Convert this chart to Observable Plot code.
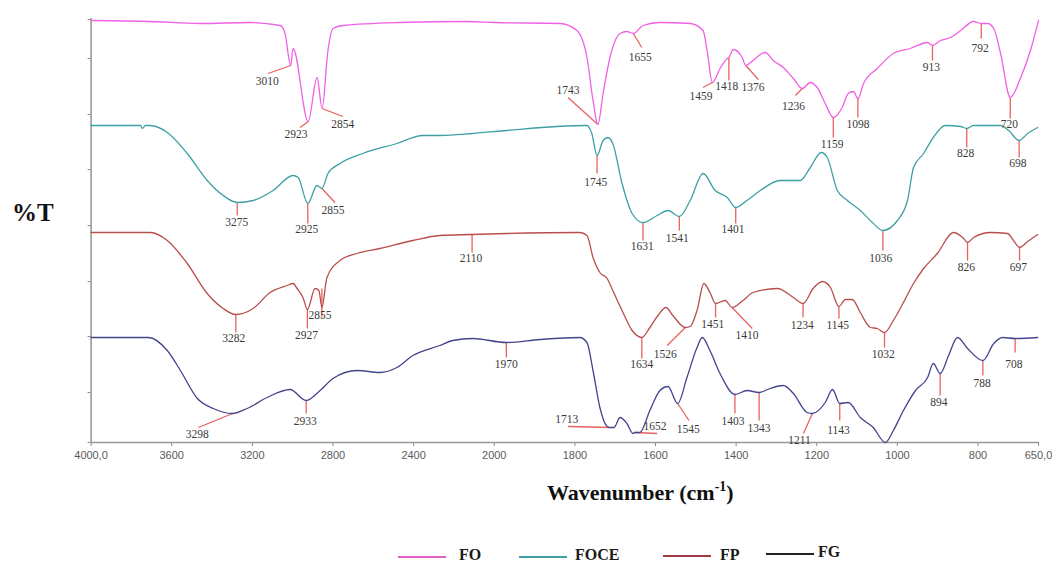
<!DOCTYPE html>
<html><head><meta charset="utf-8">
<script src="https://cdn.jsdelivr.net/npm/d3@7"></script>
<script src="https://cdn.jsdelivr.net/npm/@observablehq/plot@0.6"></script>
<style>
body{margin:0;background:#fff;}
#wrap{position:relative;width:1052px;height:564px;overflow:hidden;font-family:"Liberation Serif",serif;background:#fff;}
#chart{position:absolute;left:0;top:0;}
.lab{position:absolute;font-weight:bold;color:#111;white-space:nowrap;line-height:1;}
.leg{position:absolute;height:0;width:48px;}
.legt{position:absolute;font-weight:bold;font-size:16px;color:#1a1a1a;line-height:1;}
</style></head><body>
<div id="wrap">
<div id="chart"></div>
<div class="lab" style="left:12px;top:200px;font-size:25px;">%T</div>
<div class="lab" style="left:547px;top:482px;font-size:22px;">Wavenumber (cm<span style="position:relative;top:-9px;font-size:14px;">-1</span>)</div>
<div class="leg" style="left:398px;top:556px;border-top:2px solid #e060c8;"></div><div class="legt" style="left:459px;top:547px;">FO</div>
<div class="leg" style="left:519px;top:556px;border-top:2px solid #3fa0a4;"></div><div class="legt" style="left:575px;top:547px;">FOCE</div>
<div class="leg" style="left:663px;top:555px;border-top:2px solid #a03846;"></div><div class="legt" style="left:720px;top:547px;">FP</div>
<div class="leg" style="left:766px;top:553px;border-top:2px solid #222;"></div><div class="legt" style="left:818px;top:544px;">FG</div>
</div>
<script>
// Wavenumber (cm-1) and offset transmittance values
const FO_WN = [4000,3706,3458,3211,3062,3038,3010,2998,2923,2879,2854,2825,2800,2751,2468,2137,2000,1837,1795,1770,1755,1743,1730,1713,1688,1671,1655,1631,1589,1514,1482,1472,1459,1440,1422,1418,1407,1385,1376,1358,1328,1308,1283,1258,1236,1216,1199,1179,1159,1137,1122,1109,1098,1084,1050,1010,968,925,913,893,868,843,811,792,776,761,744,720,694,670,650];
const FO_T = [422,421,419,420,417,409,377,394,321,365,334,392,414,417,420,421,420,419,412,385,342,318,349,385,409,411,409,417,420,419,412,392,360,374,384,385,393,385,377,382,390,382,375,364,354,360,355,339,325,335,349,351,344,359,374,389,394,400,397,402,405,412,421,419,419,414,389,345,365,392,422];

const FOCE_WN = [4000,3755,3745,3731,3706,3622,3523,3424,3345,3275,3196,3097,2998,2973,2925,2879,2855,2825,2765,2652,2483,2355,2270,2107,1969,1845,1770,1758,1745,1730,1718,1706,1683,1658,1631,1596,1569,1541,1514,1482,1452,1422,1401,1373,1340,1291,1241,1216,1189,1174,1149,1124,1092,1062,1036,1000,975,960,935,911,881,843,828,811,744,724,698,677,652];
const FOCE_T = [317,317,314,317,317,310,289,262,247,240,242,252,267,265,239,257,254,269,279,289,299,307,307,309,312,316,317,309,287,302,305,299,259,229,220,227,232,226,242,269,252,245,235,242,252,262,262,275,290,285,252,242,232,220,212,222,242,275,289,305,317,316,314,317,317,312,302,309,315];

const FP_WN = [4000,3706,3622,3523,3424,3345,3282,3196,3112,3028,2998,2978,2949,2927,2889,2870,2855,2830,2765,2681,2567,2404,2270,2110,1969,1788,1770,1755,1738,1720,1706,1683,1658,1634,1614,1594,1574,1557,1526,1514,1497,1480,1465,1451,1427,1410,1383,1358,1298,1258,1234,1209,1186,1166,1145,1129,1112,1092,1067,1050,1032,1010,985,960,935,901,861,838,826,811,769,727,712,697,677,652];
const FP_T = [210,210,202,179,149,134,128,134,150,157,159,154,145,133,154,152,135,165,182,189,194,202,207,208,209,210,207,185,170,164,152,132,112,105,115,127,135,127,115,116,132,159,150,139,142,135,142,150,154,145,139,154,161,155,136,143,143,130,115,114,110,122,140,159,174,189,210,205,200,205,210,209,202,195,201,208];

const FG_WN = [4000,3716,3622,3557,3473,3394,3298,3226,3127,3013,2933,2864,2800,2681,2567,2483,2404,2270,2206,2107,1970,1887,1788,1770,1755,1738,1720,1713,1703,1688,1671,1656,1652,1639,1614,1589,1569,1545,1522,1497,1484,1465,1440,1403,1373,1343,1316,1283,1258,1224,1211,1179,1161,1143,1122,1092,1060,1030,1010,985,955,925,911,894,873,851,826,788,761,739,708,652];
const FG_T = [105,105,92,72,44,34,29,34,45,53,42,52,64,72,70,75,87,97,102,104,100,103,105,100,72,35,16,15,15,25,19,9,10,10,32,52,56,39,65,95,105,92,69,48,52,50,54,57,49,30,29,40,53,39,40,25,15,0,12,32,52,65,79,69,87,105,94,82,99,105,104,105];

// Peak annotations: [peak wn, peak T, leader end wn, leader end T, label wn, label T]
const FO_PEAKS = [[3010,377,3122,369,3126,361],[2923,321,2963,315,2983,308],[2854,334,2751,326,2751,318],[1743,318,1817,345,1817,352],[1655,409,1634,395,1638,385],[1459,360,1482,355,1487,346],[1418,385,1418,362,1423,356],[1376,377,1345,363,1358,355],[1236,354,1253,347,1258,336],[1159,325,1159,305,1162,298],[1098,344,1098,325,1098,318],[913,397,913,382,916,375],[792,419,792,404,795,394],[720,345,720,324,722,318]];
const FOCE_PEAKS = [[3275,240,3275,227,3278,220],[2925,239,2925,219,2930,213],[2855,254,2790,240,2800,232],[1745,287,1745,269,1748,260],[1631,220,1631,202,1633,196],[1541,226,1541,212,1546,204],[1401,235,1401,219,1408,213],[1036,212,1036,192,1041,184],[828,314,828,295,831,289],[698,302,698,285,701,279]];
const FP_PEAKS = [[3282,128,3282,110,3292,104],[2927,133,2927,114,2932,107],[2855,154,2855,125,2864,127],[2110,208,2110,190,2115,184],[1634,105,1634,84,1634,78],[1526,115,1571,97,1576,88],[1451,139,1451,125,1458,118],[1410,135,1360,114,1373,107],[1234,139,1234,125,1236,117],[1145,136,1145,124,1148,117],[1032,110,1032,95,1035,88],[826,200,826,182,829,175],[697,195,697,182,700,175]];
const FG_PEAKS = [[3298,29,3468,15,3473,8],[2933,42,2933,29,2938,21],[1970,100,1970,85,1970,78],[1713,15,1817,16,1820,23],[1652,10,1596,9,1601,16],[1545,39,1517,22,1519,13],[1403,48,1403,29,1408,21],[1343,50,1343,22,1343,14],[1211,29,1233,9,1243,2],[1143,39,1143,22,1146,12],[894,69,894,47,897,40],[788,82,788,67,790,59],[708,104,708,90,711,78]];

const X_TICKS = [4000,3600,3200,2800,2400,2000,1800,1600,1400,1200,1000,800,650];
const Y_TICKS = [0,50,106,161,217,273,328,384,423];
const SERIES = ["FO","FOCE","FP","FG"];
const COLORS = ["#f060e4","#3fa0a4","#b84e4c","#44448e"];

// The instrument's axis doubles its scale below 2000 cm-1
const BREAK = 2000;
const xTransform = w => w >= BREAK ? 4000 - w : (4000 - BREAK) + 2 * (BREAK - w);

const curves = [[FO_WN,FO_T],[FOCE_WN,FOCE_T],[FP_WN,FP_T],[FG_WN,FG_T]];
const peaks = [FO_PEAKS,FOCE_PEAKS,FP_PEAKS,FG_PEAKS].flatMap((arr,k) =>
  arr.map(([pw,pt,ew,et,lw,lt]) => ({series:SERIES[k],pw,pt,ew,et,lw,lt})));

const lineMarks = curves.map(([wn,t],k) =>
  Plot.line(wn.map((w,i)=>({wn:w,t:t[i]})), {x:"wn", y:"t", stroke:COLORS[k], strokeWidth:1.3, curve:"monotone-x"}));

const chart = Plot.plot({
  width: 1052, height: 470,
  marginLeft: 90.6, marginRight: 14, marginTop: 18, marginBottom: 28,
  style: {background:"transparent"},
  x: {type:"linear", transform: xTransform, domain:[xTransform(4000), xTransform(650)], label:null},
  y: {domain:[0,424], label:null},
  marks: [
    Plot.axisX(X_TICKS, {tickSize:4, tickPadding:5, tickFormat: d => d===4000 ? "4000,0" : d===650 ? "650,0" : String(d),
      fontSize:11, fontFamily:"Liberation Sans", fill:"#5a5a5a", stroke:"#888", label:null}),
    Plot.axisY(Y_TICKS, {tickSize:3, tickFormat: () => "", stroke:"#888", label:null}),
    Plot.ruleX([4000], {y1:0, y2:424, stroke:"#999", strokeWidth:1.6}),
    Plot.ruleY([0], {x1:4000, x2:650, stroke:"#999", strokeWidth:1.6}),
    Plot.link(peaks, {x1:"pw", y1:"pt", x2:"ew", y2:"et", stroke:"#e8625e", strokeWidth:1.3}),
    ...lineMarks,
    Plot.text(peaks, {x:"lw", y:"lt", text: d => String(d.pw), fontSize:11.5, fontFamily:"Liberation Serif", fill:"#3a3a3a"})
  ]
});
document.getElementById("chart").appendChild(chart);
</script>
</body></html>
